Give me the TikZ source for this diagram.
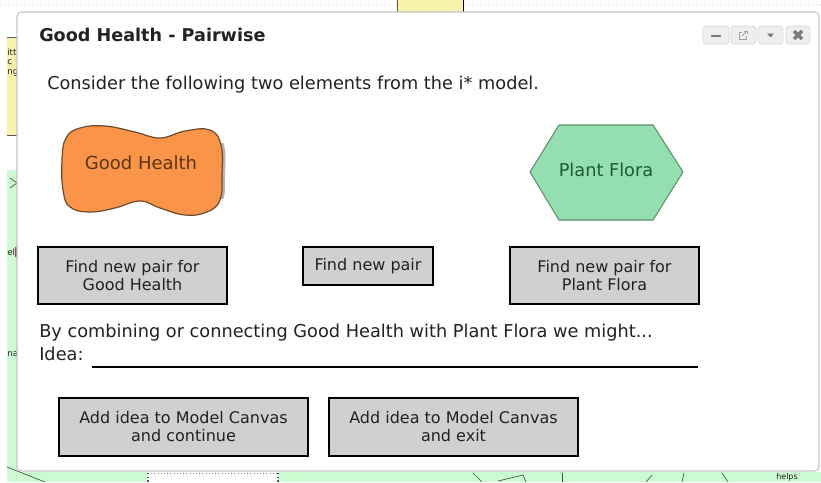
\documentclass[tikz,border=0pt]{standalone}
\usepackage{fontspec}
\setmainfont{DejaVu Sans}
\definecolor{ylw}{HTML}{F8F3AC}
\definecolor{grn}{HTML}{CBFBD1}
\definecolor{btngray}{HTML}{D0D0D0}
\definecolor{orangefill}{HTML}{F99448}
\definecolor{brownline}{HTML}{6E4A2B}
\definecolor{brtext}{HTML}{5B3512}
\definecolor{hexfill}{HTML}{94DFAF}
\definecolor{hexline}{HTML}{5F8F6E}
\definecolor{hextext}{HTML}{1E5B3B}
\definecolor{textdark}{HTML}{222222}
\definecolor{ctlfill}{HTML}{EEEEEE}
\definecolor{ctlborder}{HTML}{DADADA}
\definecolor{ctlglyph}{HTML}{7A7A7A}
\begin{document}
\begin{tikzpicture}[x=0.75pt,y=-0.75pt,
  btn/.style={draw=black, line width=1.5pt, fill=btngray, align=center, inner sep=0pt,
    font=\fontsize{12}{13.5}\selectfont, text=textdark},
  ctl/.style={draw=ctlborder, fill=ctlfill, rounded corners=2.5pt, line width=0.6pt},
  body/.style={font=\fontsize{13.3}{15}\selectfont, text=textdark, anchor=base west, inner sep=0pt},
  frag/.style={font=\fontsize{6.5}{7}\selectfont, anchor=base west, inner sep=0pt, text=textdark},
  bgline/.style={draw=gray!60!black, line width=0.5pt}
]
\clip (0,0) rectangle (821,482);
\fill[white] (0,0) rectangle (821,482);
% background fragments
\draw[gray!20, dotted, line width=1pt] (0,5) -- (821,5);
\fill[ylw] (397,0) rectangle (463,12);
\draw[brownline] (397.5,0) -- (397.5,12);
\draw[black] (463,0) -- (463,12);
\fill[ylw] (7,37) rectangle (17,135);
\draw[gray!70!black] (7,37) -- (17,37);
\draw[gray!70!black] (7,135) -- (17,135);
\fill[grn] (7,170) rectangle (17,482);
\fill[grn] (7,472) rectangle (821,482);
\fill[white] (148,472) rectangle (278,482);
\draw[gray, dotted] (148,473) -- (278,473);
\draw[gray!70!black, dotted, line width=0.8pt] (148,473) -- (148,482);
\draw[gray!70!black, dotted, line width=0.8pt] (278,473) -- (278,482);
\begin{scope}
  \clip (7,0) rectangle (17,482);
  \node[frag] (f1) at (7,55) {itt};
  \node[frag] (f2) at (7,64) {c};
  \node[frag] (f3) at (7,74) {ng};
  \node[frag] (f4) at (7,255) {el};
  \node[frag] (f5) at (7,356) {na};
  \draw[bgline] (10,178) -- (17,183) -- (10,188);
  \fill[magenta!70!black] (15,247) rectangle (17,257);
\end{scope}
\draw[bgline] (7,467) -- (45,482);
\draw[bgline] (473,473) -- (482,482);
\draw[bgline] (498,481) -- (523,475) -- (526,482);
\draw[bgline] (562,473) -- (562,482);
\draw[bgline] (646,482) -- (652,475);
\draw[bgline] (684,473) -- (682,482);
\draw[bgline] (722,473) -- (728,482);
\node[frag, font=\fontsize{6}{7}\selectfont] (helps) at (776,479.5) {helps};
% dialog
\draw[draw=gray!45, fill=white, rounded corners=3pt, line width=0.8pt] (17,12) rectangle (819,471);
\node[body, font=\bfseries\fontsize{13.2}{15}\selectfont] (title) at (39,41) {Good Health - Pairwise};
% window controls
\draw[ctl] (703,26) rectangle (729,44);
\draw[ctl] (731,26) rectangle (756,44);
\draw[ctl] (758,26) rectangle (783,44);
\draw[ctl] (786,26) rectangle (810,44);
\draw[ctlglyph, line width=2pt] (711,36) -- (721,36);
\draw[ctlglyph!70, line width=0.6pt] (742,32) -- (739,32) -- (739,39) -- (746,39) -- (746,36);
\draw[ctlglyph!70, line width=0.6pt] (742,36) -- (747,31);
\draw[ctlglyph!70, line width=0.6pt] (744,31) -- (747,31) -- (747,34);
\fill[ctlglyph] (767,33.5) -- (774,33.5) -- (770.5,37.5) -- cycle;
\draw[ctlglyph, line width=2.6pt] (794,31) -- (802,39);
\draw[ctlglyph, line width=2.6pt] (794,39) -- (802,31);
% intro
\node[body] (intro) at (47,89) {Consider the following two elements from the i* model.};
% cloud
\begin{scope}
  \clip (215,143) rectangle (230,198);
  \fill[gray!60] plot[smooth cycle, tension=0.7] coordinates {(65,160) (69,138) (83,128) (108,126) (138,132) (163,138) (188,131) (213,130) (224,145) (225,175) (223,200) (210,212) (188,215) (163,208) (143,201) (118,208) (93,212) (73,207) (66,190)};
\end{scope}
\draw[draw=brownline, fill=orangefill, line width=0.9pt] plot[smooth cycle, tension=0.7] coordinates {(62,160) (66,138) (80,128) (105,126) (135,132) (160,138) (185,131) (210,130) (221,145) (222,175) (220,200) (207,212) (185,215) (160,208) (140,201) (115,208) (90,212) (70,207) (63,190)};
\node[font=\fontsize{13.5}{15}\selectfont, text=brtext] (gh) at (141,163) {Good Health};
% hexagon
\draw[draw=hexline, fill=hexfill, line width=0.8pt] (530,172) -- (559,125) -- (653,125) -- (683,172) -- (653,220) -- (559,220) -- cycle;
\node[font=\fontsize{13.3}{15}\selectfont, text=hextext] (pf) at (606,170) {Plant Flora};
% buttons
\node[btn, minimum width=141.75pt, minimum height=42.75pt] (b1) at (132.5,275.5) {Find new pair for\\Good Health};
\node[btn, minimum width=97.5pt, minimum height=28.5pt] (b2) at (368,266) {Find new pair};
\node[btn, minimum width=141.75pt, minimum height=42.75pt] (b3) at (604.5,275.5) {Find new pair for\\Plant Flora};
% idea
\node[body] (comb) at (39,337) {By combining or connecting Good Health with Plant Flora we might...};
\node[body] (idea) at (39,360) {Idea:};
\coordinate (ul1) at (92,367);
\coordinate (ul2) at (698,367);
\draw[line width=1.5pt] (ul1) -- (ul2);
\node[btn, minimum width=186.75pt, minimum height=43.5pt] (b4) at (183.5,427) {Add idea to Model Canvas\\and continue};
\node[btn, minimum width=186.75pt, minimum height=43.5pt] (b5) at (453.5,427) {Add idea to Model Canvas\\and exit};
\end{tikzpicture}
\end{document}
